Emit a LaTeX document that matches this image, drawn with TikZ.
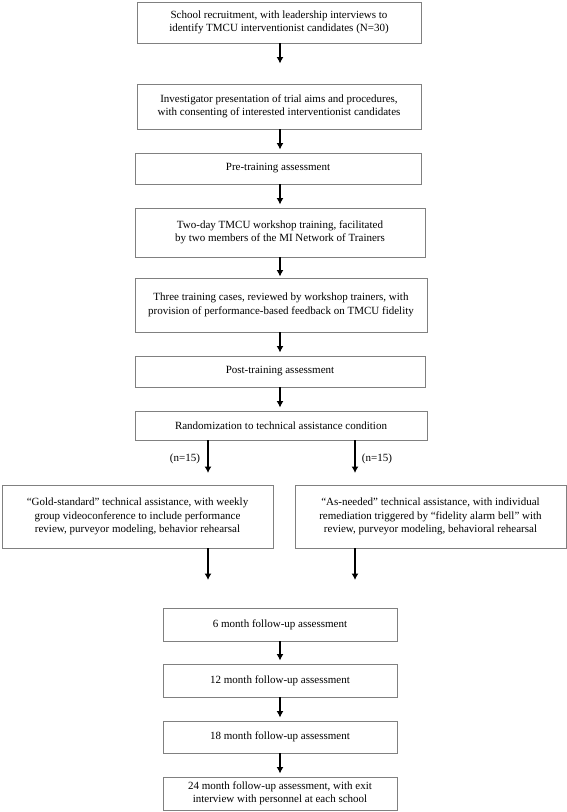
\documentclass[tikz,border=0pt]{standalone}
\usepackage{fontspec}
\setmainfont{Liberation Serif}
\usetikzlibrary{arrows.meta}
\begin{document}
\begin{tikzpicture}[x=1pt,y=-1pt,
        stepbox/.style={draw=black!50, line width=0.9pt, align=center, inner sep=0pt,
                font=\fontsize{11}{13.4}\selectfont},
        flow/.style={line width=1.4pt, -{Latex[length=6.5pt,width=7pt]}}]
        \useasboundingbox (0,0) rectangle (567,812);
        \node[stepbox, minimum width=284, minimum height=41] (recruit) at (279,22.5){School recruitment, with leadership interviews to\\identify TMCU interventionist candidates (N=30)};
        \node[stepbox, minimum width=284, minimum height=45] (consent) at (279,106.5){Investigator presentation of trial aims and procedures,\\with consenting of interested interventionist candidates};
        \node[stepbox, minimum width=286, minimum height=31] (pre) at (278,168.5){Pre-training assessment};
        \node[stepbox, minimum width=290, minimum height=49] (workshop) at (280,232.5){Two-day TMCU workshop training, facilitated\\by two members of the MI Network of Trainers};
        \node[stepbox, minimum width=292, minimum height=54] (cases) at (281,305){Three training cases, reviewed by workshop trainers, with\\provision of performance-based feedback on TMCU fidelity};
        \node[stepbox, minimum width=290, minimum height=31] (post) at (280,371.5){Post-training assessment};
        \node[stepbox, minimum width=292, minimum height=29] (rand) at (281,425.5){Randomization to technical assistance condition};
        \node[stepbox, minimum width=271, minimum height=63] (gold) at (137.5,516.5){“Gold-standard” technical assistance, with weekly\\group videoconference to include performance\\review, purveyor modeling, behavior rehearsal};
        \node[stepbox, minimum width=271, minimum height=63] (needed) at (430.5,516.5){“As-needed” technical assistance, with individual\\remediation triggered by “fidelity alarm bell” with\\review, purveyor modeling, behavioral rehearsal};
        \node[stepbox, minimum width=234, minimum height=33] (six) at (280,624.5){6 month follow-up assessment};
        \node[stepbox, minimum width=234, minimum height=33] (twelve) at (280,680.5){12 month follow-up assessment};
        \node[stepbox, minimum width=234, minimum height=32] (eighteen) at (280,737){18 month follow-up assessment};
        \node[stepbox, minimum width=234, minimum height=33] (final) at (280,793.5){24 month follow-up assessment, with exit\\interview with personnel at each school};
        \node[font=\fontsize{11}{13}\selectfont] (nL) at (185,459){(n=15)};
        \node[font=\fontsize{11}{13}\selectfont] (nR) at (377,459){(n=15)};
        \coordinate (splitL) at (208,473);
        \coordinate (splitR) at (355,473);
        \coordinate (endL) at (208,580);
        \coordinate (endR) at (355,580);
        \draw[flow, shorten >=20pt] (recruit.south -| post.south) -- (consent.north -| post.north);
        \draw[flow, shorten >=3pt] (consent.south -| post.south) -- (pre.north -| post.north);
        \draw[flow, shorten >=3pt] (pre.south -| post.south) -- (workshop.north -| post.north);
        \draw[flow, shorten >=1pt] (workshop.south -| post.south) -- (cases.north -| post.north);
        \draw[flow, shorten >=3pt] (cases.south -| post.south) -- (post.north);
        \draw[flow, shorten >=3pt] (post.south) -- (rand.north -| post.north);
        \draw[flow] (rand.south -| splitL) -- (splitL);
        \draw[flow] (rand.south -| splitR) -- (splitR);
        \draw[flow] (gold.south -| endL) -- (endL);
        \draw[flow] (needed.south -| endR) -- (endR);
        \draw[flow, shorten >=3pt] (six.south) -- (twelve.north);
        \draw[flow, shorten >=3pt] (twelve.south) -- (eighteen.north);
        \draw[flow, shorten >=3pt] (eighteen.south) -- (final.north);
    \end{tikzpicture}
\end{document}
